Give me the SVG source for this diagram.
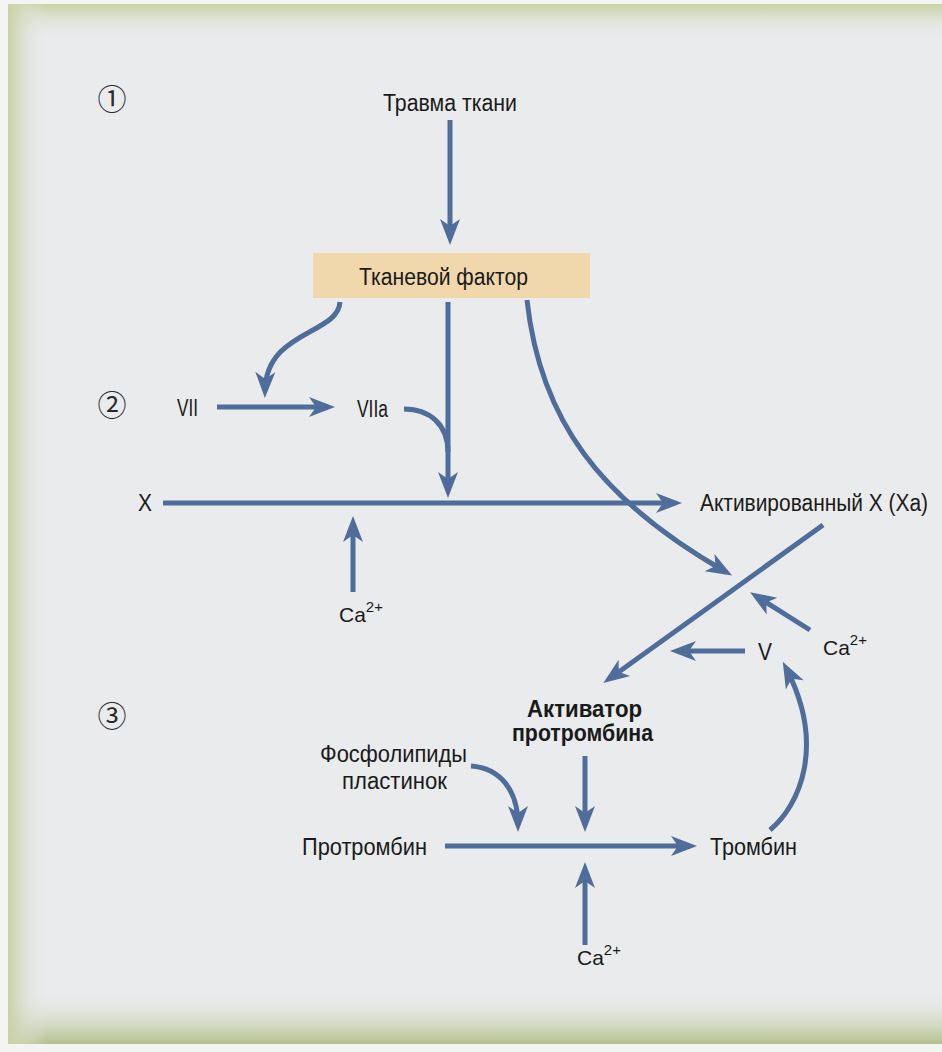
<svg xmlns="http://www.w3.org/2000/svg" width="942" height="1052" viewBox="0 0 942 1052">
<style>
.t{font-family:"Liberation Sans",Arial,sans-serif;font-size:23px;fill:#1a1a1a}
.ca{font-family:"Liberation Sans",Arial,sans-serif;font-size:21px;fill:#1a1a1a}
.b{font-weight:bold}
.num{font-family:"Noto Sans CJK SC","Noto Sans CJK JP","DejaVu Sans",sans-serif;font-size:29px;font-weight:400;fill:#2a2a2a}
.sup{font-size:15px}
.c{fill:none;stroke:#4f6d9b;stroke-width:5;marker-end:url(#ah)}
.n{fill:none;stroke:#4f6d9b;stroke-width:5}
</style>
<defs>
<marker id="ah" markerUnits="userSpaceOnUse" markerWidth="40" markerHeight="30" viewBox="-30 -15 40 30" refX="-7" refY="0" orient="auto">
<path d="M0,0 L-26,-10 L-19,0 L-26,10 Z" fill="#4f6d9b"/>
</marker>
<linearGradient id="gTop" x1="0" y1="0" x2="0" y2="1">
<stop offset="0" stop-color="#c8d1a4"/>
<stop offset="1" stop-color="#e9ebec" stop-opacity="0"/>
</linearGradient>
<linearGradient id="gBot" x1="0" y1="0" x2="0" y2="1">
<stop offset="0" stop-color="#e9ebec" stop-opacity="0"/>
<stop offset="1" stop-color="#b3bf8a"/>
</linearGradient>
<linearGradient id="gLeft" x1="0" y1="0" x2="1" y2="0">
<stop offset="0" stop-color="#c9d1a6"/>
<stop offset="1" stop-color="#e9ebec" stop-opacity="0"/>
</linearGradient>
</defs>
<g id="background">
<rect x="0" y="0" width="942" height="1052" fill="#f4f4f2"/>
<rect x="8" y="4" width="934" height="1040" fill="#e9ebec"/>
<rect x="8" y="4" width="934" height="36" fill="url(#gTop)"/>
<rect x="8" y="990" width="934" height="54" fill="url(#gBot)"/>
<rect x="8" y="4" width="40" height="1040" fill="url(#gLeft)"/>
</g>
<g id="stages">
<text class="num" x="112" y="110" text-anchor="middle">①</text>
<text class="num" x="112" y="416" text-anchor="middle">②</text>
<text class="num" x="112" y="727" text-anchor="middle">③</text>
</g>
<g id="connectors">
<path class="c" d="M450,120 V238"/>
<path class="c" d="M340,302 C338,335 266,330 265,391"/>
<path class="c" d="M217,407 H328"/>
<path class="c" d="M448,302 V491"/>
<path class="n" d="M404,409 C430,409 448,425 448,452"/>
<path class="c" d="M163,503 H675"/>
<path class="c" d="M353,592 V523"/>
<path class="c" d="M527,300 C540,420 600,500 726,572"/>
<path class="c" d="M823,525 L609,679"/>
<path class="c" d="M810,630 L756,596"/>
<path class="c" d="M745,651 H677"/>
<path class="c" d="M770,830 C800,805 826,745 786,668"/>
<path class="c" d="M471,766 C500,768 518,790 518,825"/>
<path class="c" d="M585,756 V825"/>
<path class="c" d="M445,846 H690"/>
<path class="c" d="M585,945 V869"/>
</g>
<g id="trauma"><text class="t" x="383" y="111" textLength="134" lengthAdjust="spacingAndGlyphs">Травма ткани</text></g>
<g id="tissue-factor">
<rect x="313" y="253" width="277" height="45" fill="#f1d8ac"/>
<text class="t" x="359" y="285" font-size="24" textLength="169" lengthAdjust="spacingAndGlyphs">Тканевой фактор</text>
</g>
<g id="VII"><text class="t" x="177" y="416" textLength="21" lengthAdjust="spacingAndGlyphs">VII</text></g>
<g id="VIIa"><text class="t" x="357" y="417" textLength="31" lengthAdjust="spacingAndGlyphs">VIIa</text></g>
<g id="X"><text class="t" x="138" y="511" textLength="14" lengthAdjust="spacingAndGlyphs">X</text></g>
<g id="Ca-1"><text class="ca" x="339" y="622">Ca<tspan class="sup" dy="-10">2+</tspan></text></g>
<g id="Xa"><text class="t" x="700" y="511" font-size="19" textLength="228" lengthAdjust="spacingAndGlyphs">Активированный X (Xa)</text></g>
<g id="Ca-2"><text class="ca" x="823" y="655">Ca<tspan class="sup" dy="-10">2+</tspan></text></g>
<g id="V"><text class="t" x="758" y="660" textLength="14" lengthAdjust="spacingAndGlyphs">V</text></g>
<g id="prothrombin-activator">
<text class="t b" x="527" y="717" textLength="115" lengthAdjust="spacingAndGlyphs">Активатор</text>
<text class="t b" x="512" y="741" textLength="141" lengthAdjust="spacingAndGlyphs">протромбина</text>
</g>
<g id="phospholipids">
<text class="t" x="320" y="762" textLength="147" lengthAdjust="spacingAndGlyphs">Фосфолипиды</text>
<text class="t" x="342" y="789" textLength="105" lengthAdjust="spacingAndGlyphs">пластинок</text>
</g>
<g id="prothrombin"><text class="t" x="302" y="855" textLength="125" lengthAdjust="spacingAndGlyphs">Протромбин</text></g>
<g id="thrombin"><text class="t" x="710" y="855" textLength="87" lengthAdjust="spacingAndGlyphs">Тромбин</text></g>
<g id="Ca-3"><text class="ca" x="577" y="965">Ca<tspan class="sup" dy="-10">2+</tspan></text></g>
</svg>
